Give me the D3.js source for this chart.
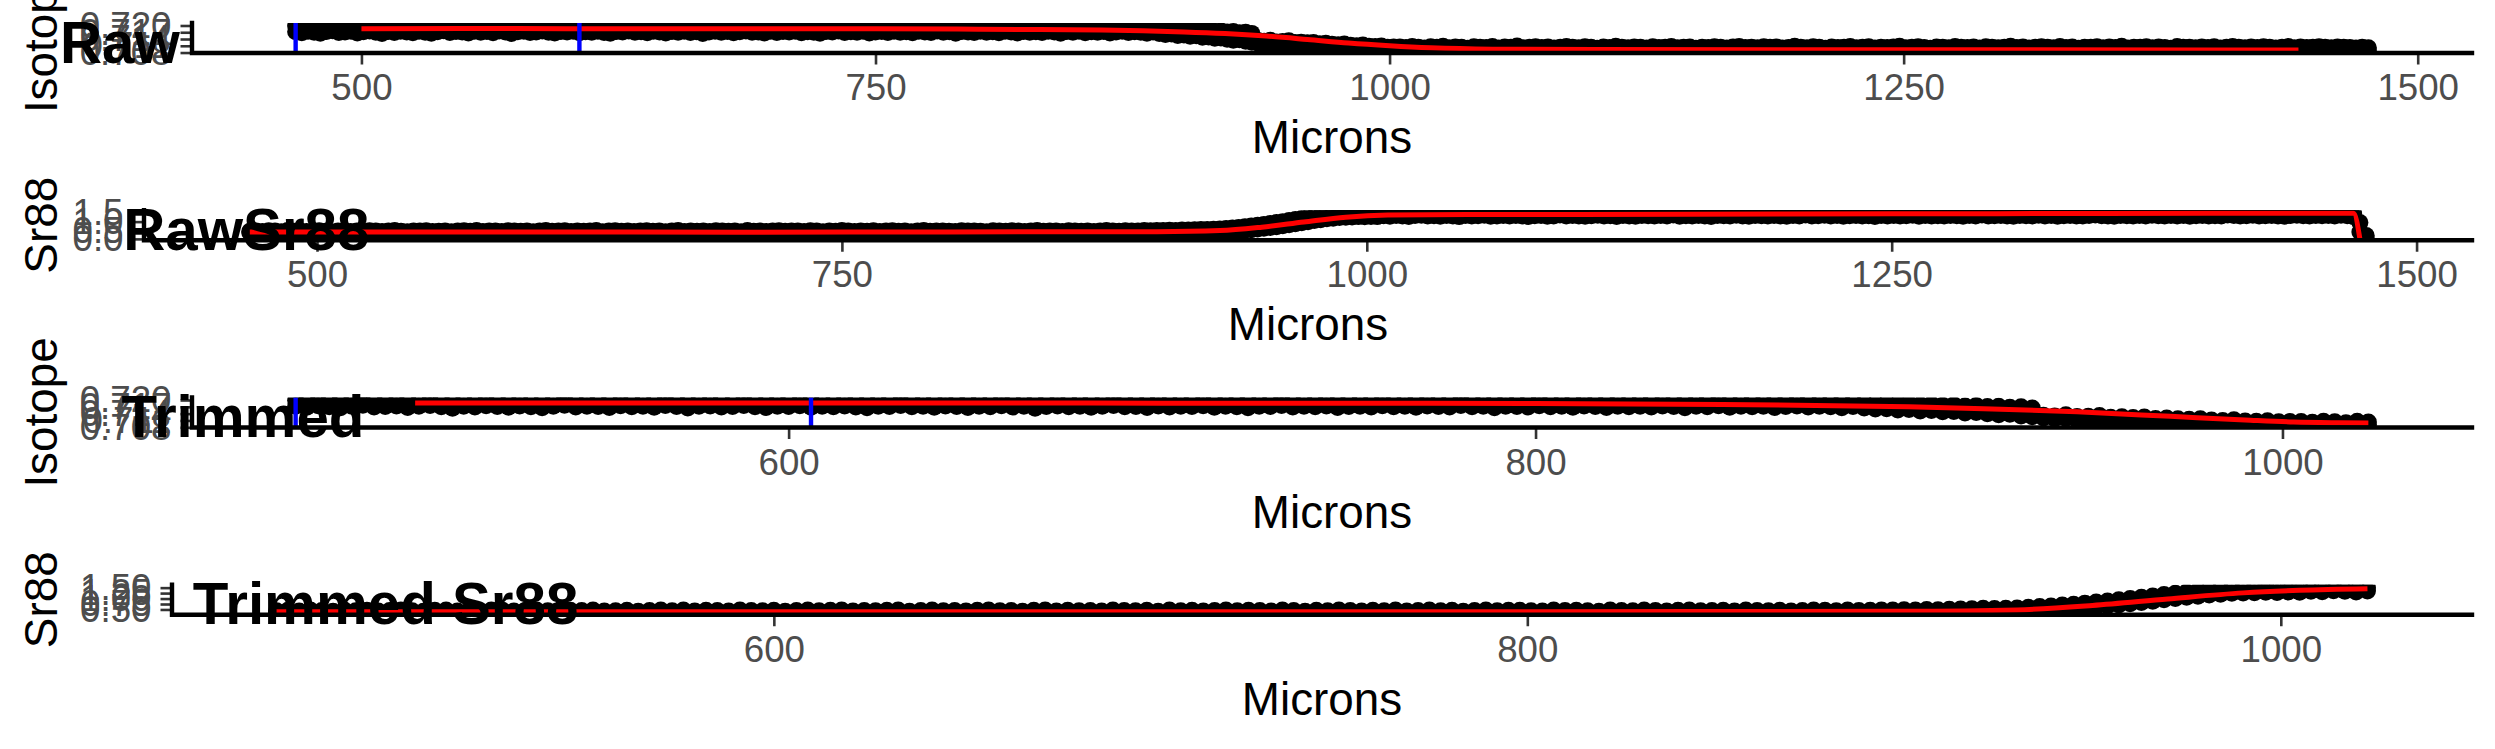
<!DOCTYPE html>
<html><head><meta charset="utf-8">
<script src="https://cdn.jsdelivr.net/npm/d3@7"></script>
<style>
body{margin:0;background:#fff}
text{font-family:"Liberation Sans",Arial,Helvetica,sans-serif}
</style>
</head><body>
<svg id="c" width="2495" height="749" xmlns="http://www.w3.org/2000/svg"></svg>
<script>
// ---------------- DATA ----------------
// sampling grid along the transect (microns): 468, 471, ... 1476
const micronStart = 468, micronStep = 3, micronEnd = 1476;
const trimEnd = 1025;

// 87Sr/86Sr isotope ratio, upper / lower scatter of the measurements (x 1e-4)
const isoHi = [
7198,7203,7196,7201,7205,7199,7194,7202,7200,7197,7204,7195,7199,7203,7198,7201,7196,7200,7205,7197,
7202,7194,7199,7201,7203,7196,7198,7204,7200,7195,7201,7199,7197,7203,7202,7196,7200,7198,7205,7194,
7199,7202,7197,7201,7203,7195,7200,7198,7196,7204,7201,7197,7199,7202,7195,7203,7198,7200,7196,7201,
7204,7199,7195,7202,7198,7197,7203,7200,7196,7201,7199,7205,7194,7198,7202,7200,7197,7203,7195,7199,
7201,7196,7204,7198,7200,7202,7195,7199,7203,7197,7200,7198,7201,7196,7204,7199,7197,7202,7195,7200,
7203,7198,7196,7201,7199,7204,7197,7200,7202,7195,7198,7201,7199,7196,7203,7200,7197,7202,7198,7194,
7200,7203,7196,7199,7201,7197,7204,7198,7195,7200,7202,7196,7199,7201,7197,7203,7194,7198,7200,7196,
7190,7186,7188,7183,7185,7180,7182,7177,7179,7174,7176,7171,7173,7168,7170,7165,
7133,7130,7135,7127,7129,7132,7124,7126,7123,7125,7119,7121,7117,7115,7118,7112,7110,7113,7108,7107,7109,7104,7105,
7105,7102,7107,7104,7100,7106,7103,7108,7101,7105,7103,7099,7106,7104,7102,7107,7100,7105,7103,7109,
7101,7104,7106,7102,7105,7100,7103,7107,7104,7101,7106,7103,7099,7105,7102,7108,7104,7101,7105,7103,
7100,7106,7102,7104,7107,7101,7103,7105,7099,7104,7102,7106,7103,7100,7105,7107,7102,7104,7101,7106,
7103,7105,7100,7102,7108,7104,7101,7106,7103,7099,7105,7102,7104,7107,7101,7103,7106,7100,7104,7102,
7105,7108,7101,7103,7106,7102,7099,7105,7104,7101,7107,7103,7102,7105,7100,7106,7104,7101,7103,7108,
7102,7105,7100,7104,7106,7103,7101,7107,7102,7105,7099,7104,7103,7106,7101,7105,7102,7108,7100,7104,
7103,7106,7101,7105,7102,7099,7107,7104,7103,7101,7105,7102,7106,7100,7104,7107,7103,7101,7105,7102,
7106,7104,7100,7103,7107,7101,7105,7102,7104,7106,7103,7101,7105,7104,7102,7100,7103,7101];
const isoLo = [
7172,7168,7175,7170,7166,7173,7177,7169,7171,7174,7167,7172,7176,7170,7164,7173,7169,7175,7171,7168,
7174,7170,7166,7172,7177,7169,7173,7171,7167,7175,7170,7173,7168,7176,7171,7165,7172,7174,7169,7171,
7176,7170,7167,7173,7171,7175,7168,7172,7170,7174,7169,7166,7173,7171,7176,7170,7172,7168,7174,7171,
7167,7173,7170,7175,7169,7172,7164,7171,7174,7170,7173,7168,7172,7176,7170,7171,7167,7174,7169,7173,
7171,7175,7168,7172,7170,7166,7173,7171,7176,7169,7172,7170,7174,7167,7171,7173,7169,7175,7170,7172,
7168,7174,7171,7169,7176,7170,7172,7166,7173,7171,7169,7175,7170,7172,7168,7174,7171,7167,7173,7170,
7172,7169,7174,7171,7166,7173,7170,7175,7168,7172,7170,7173,7167,7171,7174,7169,7172,7170,7166,7171,
7165,7160,7162,7156,7158,7152,7154,7148,7149,7143,7145,7139,7135,7137,7130,7126,
7121,7117,7119,7112,7114,7108,7110,7104,7106,7101,7103,7098,7099,7095,7097,7093,7094,7091,7092,7089,7090,7088,7087,
7088,7086,7090,7087,7085,7089,7091,7086,7088,7084,7090,7087,7089,7085,7088,7092,7086,7089,7087,7085,
7091,7088,7086,7090,7084,7087,7089,7086,7088,7091,7085,7089,7087,7090,7086,7088,7084,7089,7087,7091,
7086,7088,7090,7085,7087,7089,7086,7092,7088,7085,7087,7090,7086,7088,7084,7089,7087,7091,7085,7088,
7090,7086,7089,7087,7085,7088,7091,7086,7089,7084,7088,7087,7090,7085,7089,7086,7088,7091,7087,7085,
7089,7086,7088,7090,7084,7087,7089,7086,7091,7088,7085,7090,7087,7088,7086,7089,7085,7091,7087,7088,
7086,7089,7084,7090,7087,7088,7085,7089,7086,7091,7087,7085,7088,7090,7086,7089,7087,7084,7088,7090,
7086,7088,7091,7085,7087,7089,7086,7088,7090,7085,7089,7087,7084,7088,7086,7090,7087,7089,7085,7088,
7091,7086,7088,7087,7089,7085,7090,7086,7088,7087,7089,7085,7088,7086,7090,7087,7088,7086];

// Sr88 signal, upper / lower scatter (x 0.01)
const srHi = [
44,46,43,47,45,42,48,44,46,43,45,47,44,42,46,48,43,45,44,47,46,43,45,48,44,42,46,45,47,43,
44,46,42,45,47,44,48,43,46,45,43,47,45,44,46,42,45,48,44,46,47,43,45,44,46,48,42,45,47,44,
45,43,46,47,44,45,42,46,48,43,46,44,45,43,47,45,44,46,42,48,44,46,43,45,47,44,46,45,43,47,
45,42,46,44,48,45,43,46,44,47,43,45,47,44,46,42,45,48,44,46,46,44,43,47,45,46,44,42,47,45,
44,47,45,43,46,48,44,45,46,43,47,45,44,46,43,45,48,46,44,47,45,46,48,47,49,48,50,49,51,52,
53,55,54,56,
57,60,63,66,70,74,79,84,89,95,100,106,112,118,124,130,136,141,146,150,153,152,155,154,156,153,
152,155,151,157,153,150,156,154,158,152,155,153,151,156,154,157,152,150,155,153,
156,154,152,158,151,155,153,157,150,154,153,156,152,155,151,157,154,153,150,156,
154,152,157,155,153,150,156,154,158,152,155,151,153,156,154,157,152,155,150,153,
156,154,152,155,158,151,153,156,154,152,157,153,155,150,154,156,152,155,153,157,
151,154,156,153,155,152,158,154,150,156,153,155,152,157,154,151,156,153,155,152,
154,158,153,156,151,155,154,152,157,153,155,150,154,156,153,152,157,155,151,154,
156,153,155,152,158,154,151,156,153,155,152,157,154,150,156,153,155,152,154,157,
153,155,151,156,154,152,157,153,155,150,156,154,153,155,
148,95,20];
const srLo = [
35,33,36,34,32,37,35,33,36,34,32,35,37,33,34,36,32,35,34,37,33,36,34,32,35,37,33,34,36,35,
34,32,36,35,33,37,34,36,32,35,36,34,33,37,35,32,34,36,33,35,37,34,35,33,36,32,35,34,37,33,
34,36,32,35,37,33,34,36,35,32,35,33,36,34,32,37,35,33,36,34,33,35,37,34,36,32,35,33,34,36,
36,34,32,35,33,37,34,36,32,35,35,37,33,34,36,32,35,34,37,33,34,32,36,35,33,37,34,32,36,35,
36,33,35,37,34,32,36,35,33,34,33,36,34,32,35,37,33,34,36,35,34,36,35,37,36,38,37,39,40,42,
43,44,46,47,
40,42,44,47,50,53,57,61,66,71,76,82,88,94,100,106,111,116,120,124,126,127,129,128,130,129,
134,131,136,133,130,135,137,132,134,131,136,133,129,135,132,134,137,131,133,136,
132,135,133,130,134,136,131,133,138,132,135,133,131,134,137,132,134,130,135,133,
131,136,134,132,135,133,138,131,134,132,136,133,130,135,134,132,137,133,131,135,
134,132,136,133,131,135,133,138,132,134,137,133,135,131,134,136,132,134,130,135,
133,136,132,134,137,131,135,133,134,132,136,134,131,135,133,138,132,134,136,133,
131,135,134,132,137,133,135,131,134,136,133,132,135,138,134,133,131,136,134,132,
135,133,137,134,132,135,133,136,131,134,136,132,134,133,138,135,132,134,137,133,
134,136,133,131,135,137,134,132,136,134,135,133,137,134,
128,40,0];

// smoothed (red) curves
const redIsoRawM = [500,550,600,650,700,750,800,830,860,880,900,920,940,960,980,1000,1020,1050,1100,1200,1300,1400,1442];
const redIsoRaw  = [0.71860,0.71862,0.71860,0.71858,0.71855,0.71850,0.71835,0.71820,0.71795,0.71765,0.71715,0.71640,0.71530,0.71380,0.71220,0.71100,0.71010,0.70950,0.70930,0.70925,0.70920,0.70918,0.70918];
const redIsoTrimM = [500,550,600,650,700,750,800,850,880,900,920,945,970,990,1003,1015,1023];
const redIsoTrim  = [0.71872,0.71870,0.71868,0.71866,0.71862,0.71858,0.71850,0.71800,0.71750,0.71700,0.71620,0.71480,0.71280,0.71120,0.71030,0.71000,0.70990];
const redSrRawM = [468,500,600,700,800,900,930,950,970,990,1010,1050,1100,1200,1300,1400,1465,1470,1473];
const redSrRaw  = [0.40,0.40,0.40,0.39,0.40,0.42,0.48,0.68,0.98,1.26,1.38,1.41,1.42,1.44,1.46,1.48,1.49,1.48,0.00];
const redSrTrimM = [468,500,600,700,800,900,930,950,970,990,1005,1023];
const redSrTrim  = [0.40,0.40,0.40,0.39,0.40,0.42,0.48,0.68,0.98,1.26,1.38,1.45];

// blue reference lines (microns)
const blueLines = [468, 606];

// tick labels
const rawXTicks = [500, 750, 1000, 1250, 1500];
const trimXTicks = [600, 800, 1000];
const isoYTicks = [0.708, 0.711, 0.714, 0.717, 0.720];
const srRawYTicks = [0.0, 0.5, 1.0, 1.5];
const srTrimYTicks = [0.50, 0.75, 1.00, 1.25, 1.50];
const panelTitles = ["Raw", "RawSr88", "Trimmed", "Trimmed Sr88"];
const yTitles = ["Isotope", "Sr88", "Isotope", "Sr88"];

// ---------------- BUILD ----------------
const W = 2495, H = 749, rowH = H / 4;
const svg = d3.select("#c");
svg.append("rect").attr("width", W).attr("height", H).attr("fill", "#fff");

const allPts = isoHi.map((_, i) => ({ m: micronStart + i * micronStep, iHi: isoHi[i] / 1e4, iLo: isoLo[i] / 1e4, sHi: srHi[i] / 100, sLo: srLo[i] / 100 }))
  .filter(d => d.m <= micronEnd);
const trimPts = allPts.filter(d => d.m <= trimEnd);

function pts(data, kind) {
  const out = [];
  data.forEach(d => {
    if (kind === "iso") { out.push({ m: d.m, v: d.iHi }); out.push({ m: d.m, v: d.iLo }); }
    else { out.push({ m: d.m, v: d.sHi }); out.push({ m: d.m, v: d.sLo }); }
  });
  return out;
}

const panels = [
  { pts: pts(allPts, "iso"), redM: redIsoRawM, redV: redIsoRaw, left: 192, xT: rawXTicks, yT: isoYTicks, fmt: d3.format(".3f"), blue: true },
  { pts: pts(allPts, "sr"), redM: redSrRawM, redV: redSrRaw, left: 144, xT: rawXTicks, yT: srRawYTicks, fmt: d3.format(".1f"), blue: false },
  { pts: pts(trimPts, "iso"), redM: redIsoTrimM, redV: redIsoTrim, left: 192, xT: trimXTicks, yT: isoYTicks, fmt: d3.format(".3f"), blue: true },
  { pts: pts(trimPts, "sr"), redM: redSrTrimM, redV: redSrTrim, left: 172, xT: trimXTicks, yT: srTrimYTicks, fmt: d3.format(".2f"), blue: false }
];

const RIGHT = 2472, PT = 23, PB = 53, R = 8.5;
const expand = (ext) => { const r = ext[1] - ext[0]; return [ext[0] - 0.05 * r, ext[1] + 0.05 * r]; };

panels.forEach((p, k) => {
  const top = k * rowH;
  const g = svg.append("g");
  const y0 = top + PT, y1 = top + PB;
  const x = d3.scaleLinear().domain(expand(d3.extent(p.pts, d => d.m))).range([p.left, RIGHT]);
  const y = d3.scaleLinear().domain(expand(d3.extent(p.pts, d => d.v))).range([y1, y0]);

  const cid = "clip" + k;
  svg.append("clipPath").attr("id", cid).append("rect")
    .attr("x", p.left).attr("y", y0).attr("width", RIGHT - p.left).attr("height", y1 - y0);
  const plot = g.append("g").attr("clip-path", `url(#${cid})`);

  plot.append("g").selectAll("circle").data(p.pts).join("circle")
    .attr("cx", d => x(d.m)).attr("cy", d => y(d.v)).attr("r", R).attr("fill", "#000");

  const red = p.redM.map((m, i) => [m, p.redV[i]]);
  plot.append("path").datum(red)
    .attr("d", d3.line().x(d => x(d[0])).y(d => y(d[1])).curve(d3.curveMonotoneX))
    .attr("fill", "none").attr("stroke", "#FF0000").attr("stroke-width", 5);

  if (p.blue) {
    plot.selectAll("line.blue").data(blueLines).join("line").attr("class", "blue")
      .attr("x1", d => x(d)).attr("x2", d => x(d)).attr("y1", y0).attr("y2", y1)
      .attr("stroke", "#0000FF").attr("stroke-width", 4.4);
  }

  // x axis
  const xa = g.append("g").attr("transform", `translate(0,${y1})`)
    .call(d3.axisBottom(x).tickValues(p.xT).tickSize(11.5).tickPadding(9.5).tickSizeOuter(0).tickFormat(d3.format("d")));
  xa.select(".domain").remove();
  xa.selectAll(".tick line").attr("stroke", "#333333").attr("stroke-width", 2.6);
  xa.selectAll(".tick text").attr("fill", "#4D4D4D").attr("font-size", 36.7);

  // y axis
  const ya = g.append("g").attr("transform", `translate(${p.left},0)`)
    .call(d3.axisLeft(y).tickValues(p.yT).tickSize(11.5).tickPadding(9).tickSizeOuter(0).tickFormat(p.fmt));
  ya.select(".domain").remove();
  ya.selectAll(".tick line").attr("stroke", "#333333").attr("stroke-width", 2.6);
  ya.selectAll(".tick text").attr("fill", "#4D4D4D").attr("font-size", 36.7);

  // axis lines
  g.append("path").attr("d", `M${p.left},${y0}V${y1}H${RIGHT}`)
    .attr("fill", "none").attr("stroke", "#000").attr("stroke-width", 4.4).attr("stroke-linecap", "square");

  // axis titles
  g.append("text").attr("x", (p.left + RIGHT) / 2).attr("y", top + 153).attr("text-anchor", "middle")
    .attr("font-size", 45.8).attr("fill", "#000").text("Microns");
  g.append("text").attr("transform", `translate(57,${top + 38}) rotate(-90)`).attr("text-anchor", "middle")
    .attr("font-size", 45.8).attr("fill", "#000").text(yTitles[k]);
});

// panel labels (drawn on top)
panelTitles.forEach((t, k) => {
  const txt = svg.append("text").attr("y", k * rowH + 62.6).attr("font-size", 58.3)
    .attr("font-weight", "bold").attr("fill", "#000").text(t);
  const w = txt.node().getComputedTextLength();
  txt.attr("x", 0.5 * w);
});
</script>
</body></html>
